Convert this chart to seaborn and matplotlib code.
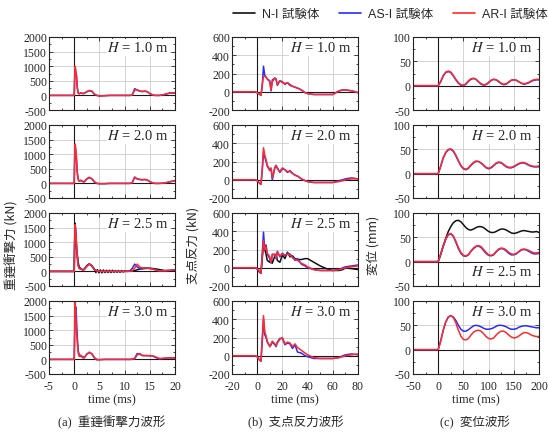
import matplotlib
matplotlib.use('Agg')
import matplotlib.pyplot as plt
from matplotlib.ticker import MultipleLocator
from matplotlib.lines import Line2D
import seaborn as sns

# %% data
heights = ['1.0', '2.0', '2.5', '3.0']
series_names = ['N-I 試験体', 'AS-I 試験体', 'AR-I 試験体']
colors = ['#111111', '#2a2aff', '#ff2a2a']

# (a) impact force, kN
ta = [-5, -0.1, 0, 0.1, 0.2, 0.3, 0.45, 0.6, 0.8, 1.0, 1.3, 1.7, 2.0, 2.5, 3.0, 3.5, 4.0, 4.5, 5.0, 6.0,
      7.0, 8.0, 9.0, 10.0, 11.0, 11.5, 12.0, 12.5, 13.0, 13.5, 14.0, 14.5, 15.0, 15.5, 16.0, 16.5, 17.0, 18.0, 19.0, 20.0]
a1_as = [0, 0, 0, 600, 950, 800, 700, 300, 80, 60, 80, 60, 70, 120, 160, 140, 40, 0, -20, -10,
         0, 0, 0, 0, 0, 10, 230, 180, 150, 130, 150, 130, 60, 20, 0, 0, 0, 30, 80, 80]
a1_ar = [0, 0, 0, 700, 1000, 850, 650, 250, 70, 50, 90, 70, 80, 130, 170, 150, 50, 0, -20, -10,
         0, 0, 0, 0, 0, 10, 180, 200, 140, 140, 140, 120, 70, 20, 0, 0, 0, 40, 90, 90]
a2_as = [0, 0, 0, 900, 1250, 1100, 800, 400, 150, 80, 100, 60, 50, 150, 200, 150, 50, 0, -10, -10,
         0, 0, 0, 0, 0, 20, 220, 150, 130, 120, 130, 120, 60, 20, 0, 0, 0, 10, 50, 90]
a2_ar = [0, 0, 0, 1000, 1350, 1200, 900, 350, 120, 70, 110, 70, 60, 160, 210, 160, 60, 0, -10, -10,
         0, 0, 0, 0, 0, 20, 200, 160, 140, 130, 140, 110, 60, 20, 0, 0, 0, 20, 60, 100]
a3_as = [0, 0, 0, 1000, 1550, 1300, 900, 500, 200, 100, 80, 50, 60, 180, 250, 180, 60, 20, 0, 0,
         0, 0, 0, 0, 10, 100, 250, 150, 100, 100, 120, 110, 100, 80, 60, 30, 20, 20, 30, 50]
a3_ar = [0, 0, 0, 1100, 1600, 1400, 1000, 500, 180, 100, 90, 40, 60, 170, 250, 190, 60, 20, 0, 0,
         0, 0, 0, 0, 0, 10, 120, 250, 150, 120, 120, 110, 100, 80, 60, 30, 20, 20, 40, 60]
ta3n = [-5, -0.1, 0, 0.1, 0.2, 0.3, 0.45, 0.6, 0.8, 1.0, 1.3, 1.7, 2.0, 2.5, 3.0, 3.5, 4.0, 4.3, 4.6, 4.9,
        5.2, 5.5, 5.8, 6.1, 6.4, 6.7, 7.0, 7.3, 7.6, 7.9, 8.2, 8.5, 8.8, 9.1, 9.4, 9.7, 10.0, 10.5, 11.0, 12.0,
        13.0, 14.0, 15.0, 16.0, 17.0, 18.0, 19.0, 20.0]
a3_n = [0, 0, 0, 1200, 1650, 1300, 800, 600, 300, 150, 100, 60, 80, 200, 260, 200, 80, -40, 60, -50,
        50, -50, 50, -40, 40, -40, 40, -40, 40, -30, 30, -30, 30, -30, 30, -20, 20, 0, 10, 30,
        80, 100, 110, 90, 60, 30, 30, 50]
a4_as = [0, 0, 0, 900, 1600, 1800, 1400, 800, 300, 150, 100, 100, 60, 180, 230, 200, 60, 0, -10, 0,
         0, 0, 0, 0, 0, 10, 40, 200, 180, 130, 130, 130, 120, 120, 80, 40, 20, 40, 50, 50]
a4_ar = [0, 0, 0, 1300, 1950, 1500, 1000, 600, 200, 100, 150, 50, 50, 180, 250, 180, 50, -20, -10, 0,
         0, 0, 0, 0, 0, 0, 30, 150, 200, 140, 130, 130, 130, 120, 100, 60, 30, 40, 50, 60]

# (b) support reaction, kN
tb = [-20, -2, 0, 2, 3, 4, 5, 6, 7, 8, 10, 11, 12, 14, 15, 16, 18, 20, 22, 24,
      26, 28, 30, 32, 35, 38, 40, 45, 50, 55, 60, 65, 68, 70, 75, 80]
b1_as = [0, 0, -10, -30, -40, 60, 280, 180, 160, 140, 120, 10, 130, 150, 140, 70, 120, 110, 80, 100,
         70, 60, 50, 40, 20, -10, -20, -30, -30, -30, -30, 10, 20, 20, 10, -10]
b1_ar = [0, 0, -10, -30, -40, 80, 170, 170, 160, 140, 110, 20, 110, 150, 130, 80, 120, 100, 90, 100,
         80, 60, 50, 40, 20, -10, -20, -30, -30, -30, -30, 10, 20, 20, 10, -10]
b2_as = [0, 0, -10, -40, -50, 100, 300, 250, 200, 150, 100, 120, 0, 130, 150, 130, 80, 120, 110, 80,
         100, 70, 50, 40, 10, -10, -20, -30, -30, -30, -30, -10, 0, 10, 20, 10]
b2_ar = [0, 0, -10, -40, -50, 120, 350, 270, 220, 160, 110, 130, 20, 140, 160, 120, 90, 130, 110, 90,
         90, 70, 50, 40, 10, -10, -20, -30, -30, -30, -30, -20, -10, 0, 10, 10]
b3_n = [0, 0, -10, -50, -60, 100, 260, 200, 150, 80, 60, 100, 50, 130, 150, 80, 60, 140, 100, 170,
        120, 130, 100, 90, 90, 100, 100, 60, 20, -10, -30, -30, -20, 0, -10, -20]
b3_as = [0, 0, -10, -50, -60, 150, 390, 200, 250, 150, 100, 50, 150, 140, 100, 180, 120, 160, 130, 160,
         150, 120, 80, 100, 40, 20, 0, -20, -30, -30, -30, -20, 0, 10, 20, 30]
b3_ar = [0, 0, -10, -40, -60, 120, 300, 200, 230, 160, 120, 60, 140, 150, 110, 170, 130, 150, 140, 150,
         140, 110, 90, 80, 50, 30, 10, -20, -30, -30, -30, -20, -10, 0, 10, 20]
b4_as = [0, 0, -10, -50, -60, 150, 400, 230, 200, 150, 100, 120, 150, 120, 100, 150, 190, 190, 120, 140,
         130, 80, 120, 40, 30, 0, -10, -30, -30, -30, -30, -20, 0, 10, 20, 10]
b4_ar = [0, 0, -10, -50, -60, 200, 440, 260, 220, 160, 100, 130, 160, 130, 110, 140, 180, 200, 130, 150,
         140, 100, 130, 90, 60, 30, 10, -20, -30, -30, -30, -20, -10, 0, 10, 20]

# (c) displacement, mm
tc = [-50, 0, 5, 10, 15, 20, 25, 30, 35, 40, 45, 50, 55, 60, 65, 70, 75, 80, 85, 90, 95,
      100, 105, 110, 115, 120, 125, 130, 135, 140, 145, 150, 155, 160, 165, 170, 175, 180, 185, 190, 195, 200]
c1_as = [0, 0, 8, 20, 27, 29, 27, 20, 12, 5, 1, 0, 3, 9, 13, 15, 13, 8, 3, 1, 2,
         6, 11, 13, 12, 8, 4, 2, 3, 7, 11, 12, 11, 8, 5, 3, 4, 6, 9, 11, 12, 12]
c1_ar = [0, 0, 9, 21, 28, 30, 28, 21, 13, 6, 2, 1, 4, 10, 14, 15, 13, 8, 4, 2, 3,
         7, 11, 13, 12, 9, 5, 3, 4, 8, 11, 12, 11, 8, 5, 4, 5, 7, 10, 12, 13, 13]
c2_as = [0, 0, 15, 32, 43, 49, 50, 46, 37, 26, 16, 10, 8, 11, 17, 22, 25, 25, 22, 17, 12,
         10, 12, 16, 21, 23, 22, 18, 14, 12, 12, 14, 17, 20, 22, 22, 20, 17, 15, 14, 14, 14]
c2_ar = [0, 0, 16, 33, 44, 50, 51, 47, 38, 27, 17, 11, 9, 12, 18, 23, 26, 25, 22, 18, 13,
         11, 13, 17, 22, 24, 23, 19, 15, 13, 13, 15, 18, 21, 23, 23, 21, 18, 16, 15, 15, 16]
c3_n = [0, 0, 15, 32, 48, 62, 72, 80, 84, 85, 82, 76, 70, 66, 65, 67, 70, 72, 72, 70, 66,
        62, 60, 60, 62, 65, 67, 67, 65, 62, 59, 58, 59, 61, 63, 64, 63, 62, 61, 61, 62, 60]
c3_as = [0, 0, 15, 32, 46, 55, 57, 52, 40, 27, 17, 12, 11, 14, 21, 27, 31, 32, 29, 23, 17,
         13, 12, 14, 20, 25, 27, 26, 22, 17, 14, 14, 16, 20, 24, 25, 24, 21, 18, 16, 16, 17]
c3_ar = [0, 0, 16, 33, 47, 56, 58, 53, 42, 29, 19, 13, 12, 15, 22, 28, 32, 33, 31, 25, 19,
         14, 13, 15, 21, 26, 28, 27, 24, 19, 16, 15, 17, 21, 25, 26, 25, 23, 20, 18, 18, 19]
c4_as = [0, 0, 18, 40, 57, 67, 70, 67, 60, 50, 42, 38, 38, 41, 45, 49, 50, 49, 47, 44, 42,
         42, 43, 45, 48, 50, 50, 49, 47, 44, 42, 42, 43, 46, 48, 49, 49, 48, 47, 46, 45, 45]
c4_ar = [0, 0, 18, 40, 57, 67, 70, 66, 55, 40, 28, 21, 20, 23, 30, 36, 39, 40, 38, 33, 27,
         23, 22, 24, 30, 35, 38, 38, 35, 30, 26, 24, 25, 28, 32, 35, 35, 33, 30, 28, 27, 27]

# %% figure
sns.set_theme(style='ticks')
plt.rcParams['font.family'] = ['Liberation Serif', 'Noto Sans CJK JP']
plt.rcParams['mathtext.fontset'] = 'stix'
plt.rcParams['axes.linewidth'] = 0.8
plt.rcParams['axes.unicode_minus'] = False

W, H = 548, 435
fig = plt.figure(figsize=(W / 100, H / 100), dpi=100)

col_left = [49, 232, 413]
row_top = [38, 126, 214, 302]
aw, ah = 126, 73

cols = [
    dict(t=ta, data=[(None, a1_as, a1_ar), (None, a2_as, a2_ar), ((ta3n, a3_n), a3_as, a3_ar), (None, a4_as, a4_ar)],
         xlim=(-5, 20), xmaj=5, xmin=2.5, ylim=(-500, 2000), ymaj=500, ymin=250),
    dict(t=tb, data=[(None, b1_as, b1_ar), (None, b2_as, b2_ar), ((tb, b3_n), b3_as, b3_ar), (None, b4_as, b4_ar)],
         xlim=(-20, 80), xmaj=20, xmin=10, ylim=(-200, 600), ymaj=200, ymin=100),
    dict(t=tc, data=[(None, c1_as, c1_ar), (None, c2_as, c2_ar), ((tc, c3_n), c3_as, c3_ar), (None, c4_as, c4_ar)],
         xlim=(-50, 200), xmaj=50, xmin=25, ylim=(-50, 100), ymaj=50, ymin=25),
]

for ci, c in enumerate(cols):
    for ri in range(4):
        ax = fig.add_axes([col_left[ci] / W, 1 - (row_top[ri] + ah) / H, aw / W, ah / H])
        ax.grid(True, color='#cccccc', lw=0.6)
        ax.axhline(0, color='k', lw=0.8, zorder=1)
        ax.axvline(0, color='k', lw=0.8, zorder=1)
        black, blue, red = c['data'][ri]
        if black is not None:
            sns.lineplot(x=black[0], y=black[1], ax=ax, color=colors[0], lw=1.1, sort=False, estimator=None)
        sns.lineplot(x=c['t'], y=blue, ax=ax, color=colors[1], lw=1.1, sort=False, estimator=None)
        sns.lineplot(x=c['t'], y=red, ax=ax, color=colors[2], lw=1.1, sort=False, estimator=None)
        ax.set_xlim(*c['xlim'])
        ax.set_ylim(*c['ylim'])
        ax.xaxis.set_major_locator(MultipleLocator(c['xmaj']))
        ax.xaxis.set_minor_locator(MultipleLocator(c['xmin']))
        ax.yaxis.set_major_locator(MultipleLocator(c['ymaj']))
        ax.yaxis.set_minor_locator(MultipleLocator(c['ymin']))
        ax.tick_params(which='both', direction='in', top=True, right=True, labelsize=8.5, width=0.6)
        ax.tick_params(axis='y', pad=1.5)
        ax.tick_params(axis='x', pad=4)
        ax.tick_params(which='major', length=3)
        ax.tick_params(which='minor', length=1.5)
        ax.set_xlabel('')
        ax.set_ylabel('')
        for s in ax.spines.values():
            s.set_color('#222222')
        if ri < 3:
            ax.set_xticklabels([])
        ypos = 0.2 if (ci == 2 and ri == 2) else 0.86
        ax.text(0.95, ypos, r'$H$ = ' + heights[ri] + ' m', transform=ax.transAxes, ha='right', va='center',
                fontsize=10.5, zorder=5, bbox=dict(fc='white', ec='none', pad=1.0))

# axis titles
for x, lab in zip([12, 193, 373], ['重錘衝撃力 (kN)', '支点反力 (kN)', '変位 (mm)']):
    fig.text(x / W, 1 - 245 / H, lab, rotation=90, ha='center', va='center', fontsize=9,
             family=['Noto Sans CJK JP', 'DejaVu Sans'])
for ci in range(3):
    xc = (col_left[ci] + aw / 2) / W
    fig.text(xc, 1 - 400 / H, 'time (ms)', ha='center', va='center', fontsize=9)
for x, lab in zip([112, 296, 475], ['(a)  重錘衝撃力波形', '(b)  支点反力波形', '(c)  変位波形']):
    fig.text(x / W, 1 - 423 / H, lab, ha='center', va='center', fontsize=9,
             family=['Liberation Serif', 'Noto Sans CJK JP'])

handles = [Line2D([0], [0], color=col, lw=1.2) for col in colors]
fig.legend(handles, series_names, loc='center', bbox_to_anchor=(390 / W, 1 - 15 / H), ncol=3, frameon=False,
           handlelength=1.8, columnspacing=1.6, handletextpad=0.5,
           prop=dict(family=['Liberation Sans', 'Noto Sans CJK JP'], size=9))

fig.savefig('out.png', dpi=100)
